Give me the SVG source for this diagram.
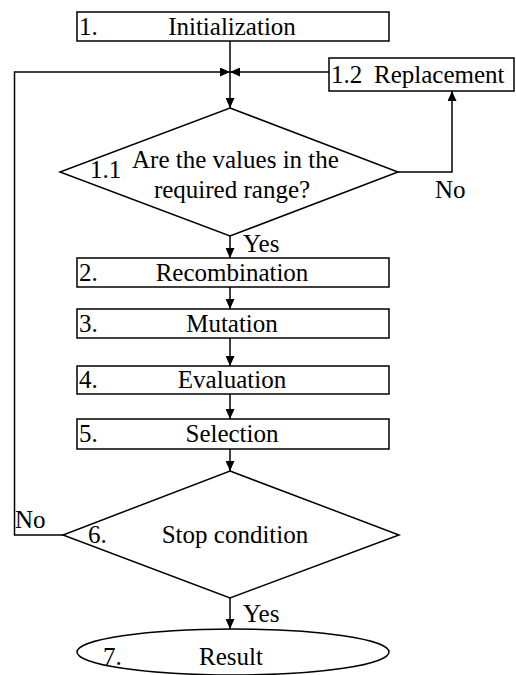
<svg xmlns="http://www.w3.org/2000/svg" width="516" height="675" viewBox="0 0 516 675" font-family="'Liberation Serif', serif">
<style>
.s{fill:#fff;stroke:#000;stroke-width:1.5}
.c{fill:none;stroke:#000;stroke-width:1.5}
text{font-family:'Liberation Serif',serif;font-size:25px;fill:#000}
.m{text-anchor:middle}
</style>
<defs>
<marker id="a" markerUnits="userSpaceOnUse" markerWidth="11" markerHeight="9" refX="10" refY="4.5" orient="auto">
<path d="M0,0 L10,4.5 L0,9 z" fill="#000"/>
</marker>
</defs>
<rect width="516" height="675" fill="#fff"/>
<g id="connectors">
<line class="c" x1="230" y1="41" x2="230" y2="72"/>
<line class="c" x1="230" y1="72" x2="230" y2="108" marker-end="url(#a)"/>
<path class="c" d="M329,72 H230" marker-end="url(#a)"/>
<path class="c" d="M63,535 H14.5 V72 H230" marker-end="url(#a)"/>
<path class="c" d="M398,172 H452 V91" marker-end="url(#a)"/>
<line class="c" x1="230" y1="236" x2="230" y2="258" marker-end="url(#a)"/>
<line class="c" x1="230" y1="287" x2="230" y2="309" marker-end="url(#a)"/>
<line class="c" x1="230" y1="338" x2="230" y2="366" marker-end="url(#a)"/>
<line class="c" x1="230" y1="394" x2="230" y2="419" marker-end="url(#a)"/>
<line class="c" x1="230" y1="449" x2="230" y2="471" marker-end="url(#a)"/>
<line class="c" x1="230" y1="598" x2="230" y2="629" marker-end="url(#a)"/>
<text x="435" y="198">No</text>
<text x="243" y="252">Yes</text>
<text x="15" y="528">No</text>
<text x="243" y="622">Yes</text>
</g>
<g id="n1">
<rect class="s" x="77" y="12" width="312" height="29"/>
<text x="79" y="35">1.</text>
<text class="m" x="232" y="35">Initialization</text>
</g>
<g id="n12">
<rect class="s" x="329" y="58" width="185" height="33"/>
<text x="331" y="83">1.2</text>
<text x="374" y="83">Replacement</text>
</g>
<g id="n11">
<polygon class="s" points="230,108 398,172 230,236 60,172"/>
<text x="90" y="178">1.1</text>
<text x="132" y="168">Are the values in the</text>
<text class="m" x="232" y="198">required range?</text>
</g>
<g id="n2">
<rect class="s" x="77" y="258" width="312" height="29"/>
<text x="79" y="281">2.</text>
<text class="m" x="232" y="281">Recombination</text>
</g>
<g id="n3">
<rect class="s" x="77" y="309" width="312" height="29"/>
<text x="79" y="332">3.</text>
<text class="m" x="232" y="332">Mutation</text>
</g>
<g id="n4">
<rect class="s" x="77" y="366" width="312" height="28"/>
<text x="79" y="388">4.</text>
<text class="m" x="232" y="388">Evaluation</text>
</g>
<g id="n5">
<rect class="s" x="77" y="419" width="312" height="30"/>
<text x="79" y="442">5.</text>
<text class="m" x="232" y="442">Selection</text>
</g>
<g id="n6">
<polygon class="s" points="230,471 399,535 230,598 63,535"/>
<text x="88" y="543">6.</text>
<text class="m" x="235" y="543">Stop condition</text>
</g>
<g id="n7">
<ellipse class="s" cx="233" cy="652" rx="156" ry="23"/>
<text x="103" y="665">7.</text>
<text class="m" x="231" y="665">Result</text>
</g>
</svg>
